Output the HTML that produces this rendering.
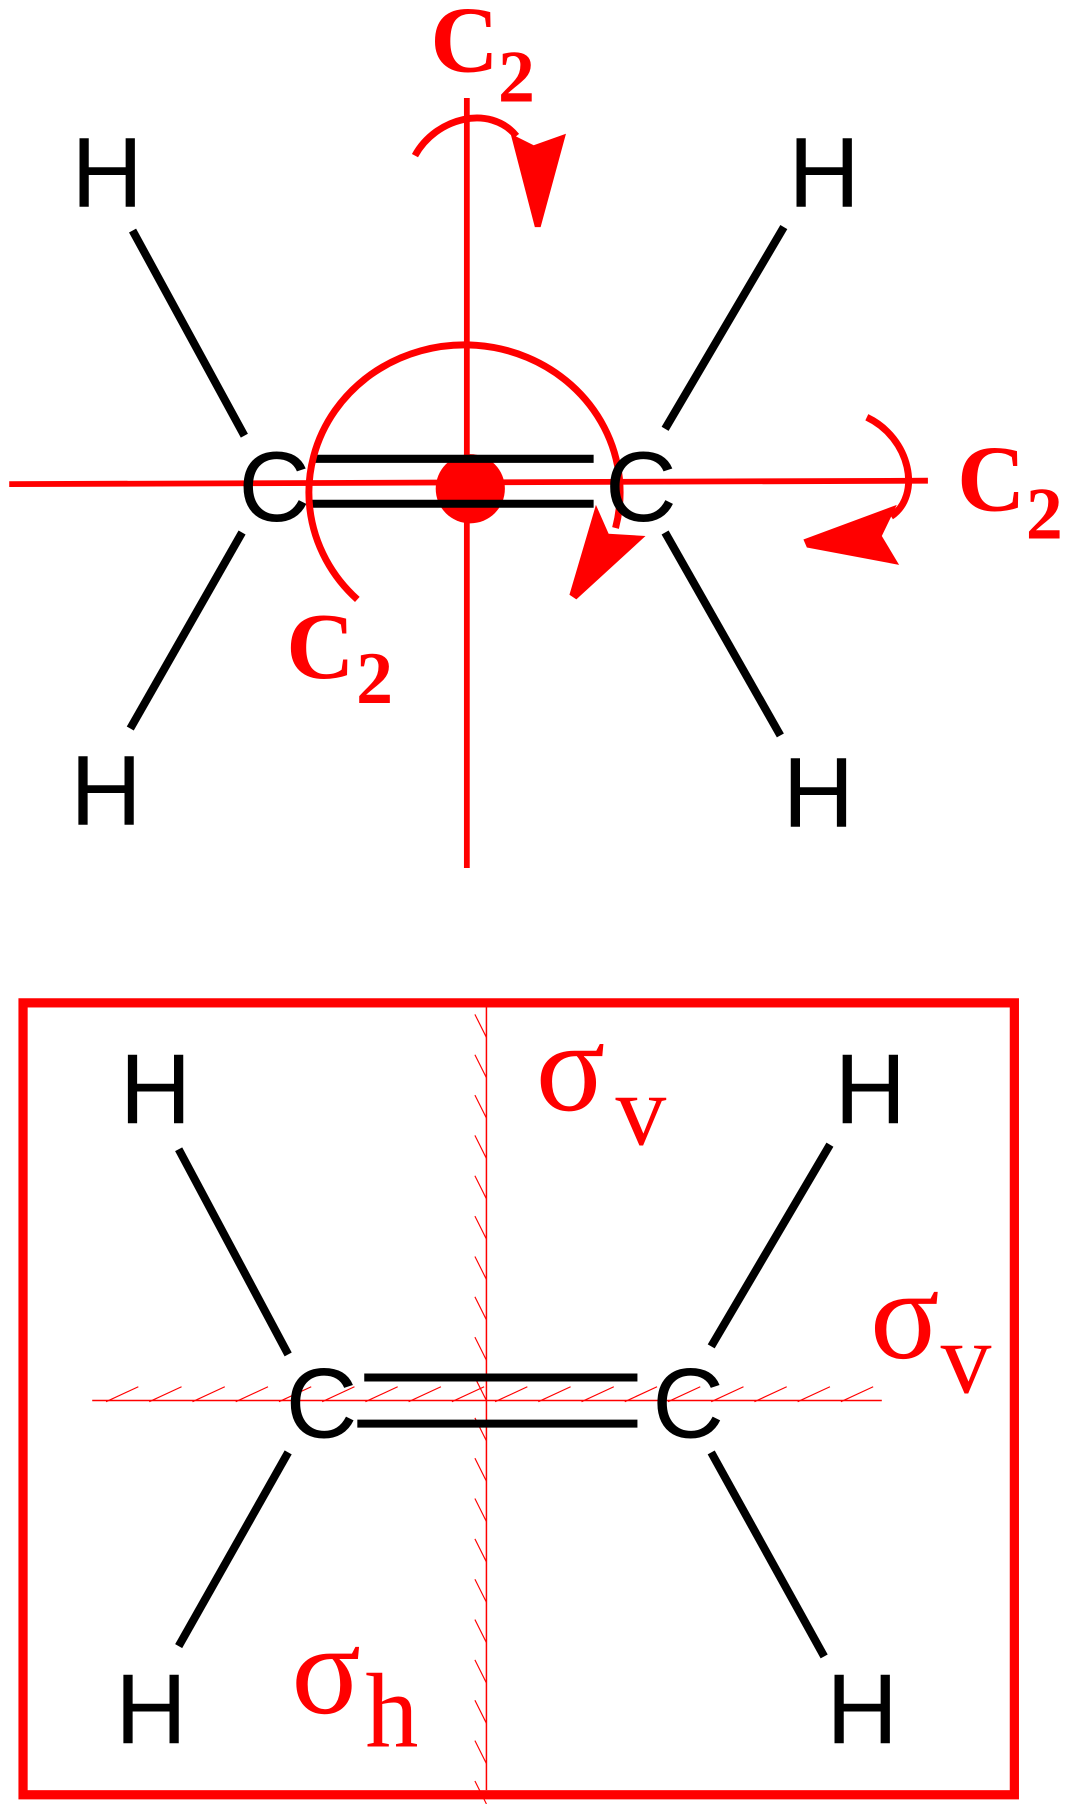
<!DOCTYPE html>
<html><head><meta charset="utf-8"><style>
html,body{margin:0;padding:0;background:#fff;}
svg{display:block;}
.at{font-family:"Liberation Sans",sans-serif;font-size:86px;fill:#000;text-anchor:middle;dominant-baseline:central;}
.lb{font-family:"Liberation Serif",serif;fill:#f00;font-weight:bold;text-anchor:middle;}
.lt{font-family:"Liberation Serif",serif;fill:#f00;text-anchor:middle;}
</style></head><body>
<svg width="1072" height="1804" viewBox="0 0 930 1565" preserveAspectRatio="none">
<g>
  <line x1="405" y1="85" x2="405" y2="753" stroke="#f00" stroke-width="5"/>
  <line x1="8" y1="420" x2="805" y2="417" stroke="#f00" stroke-width="5"/>
  <ellipse cx="408" cy="424" rx="30" ry="30" fill="#f00"/>
  <g stroke="#000" stroke-width="7">
    <line x1="270" y1="398" x2="515" y2="398"/>
    <line x1="270" y1="437" x2="515" y2="437"/>
  </g>
  <path d="M310,520 A135,128 0 1 1 534,458" fill="none" stroke="#f00" stroke-width="6"/>
  <polygon points="517,438 528,463 560,465 500,520 494,516" fill="#f00"/>
  <path d="M360,135 C378,102 425,90 448,118" fill="none" stroke="#f00" stroke-width="6"/>
  <polygon points="443,116 463,126 491,116 469,197 464,197" fill="#f00"/>
  <path d="M752,362 C790,380 800,430 773,448" fill="none" stroke="#f00" stroke-width="6"/>
  <polygon points="778,438 765,465 780,490 700,475 697,468" fill="#f00"/>
  <g stroke="#000" stroke-width="7">
    <line x1="115" y1="200" x2="212" y2="378"/>
    <line x1="680" y1="197" x2="577" y2="372"/>
    <line x1="210" y1="462" x2="113" y2="632"/>
    <line x1="577" y1="462" x2="677" y2="638"/>
  </g>
  <text class="at" x="238" y="423">C</text>
  <text class="at" x="556" y="423">C</text>
  <text class="at" x="93" y="150">H</text>
  <text class="at" x="715" y="150">H</text>
  <text class="at" x="92" y="686">H</text>
  <text class="at" x="710" y="688">H</text>
  <g><text class="lb" x="403" y="62" font-size="82">C</text><text class="lb" x="448" y="88" font-size="64">2</text></g>
  <g><text class="lb" x="860" y="443" font-size="82">C</text><text class="lb" x="906" y="467" font-size="64">2</text></g>
  <g><text class="lb" x="278" y="588" font-size="82">C</text><text class="lb" x="325" y="610" font-size="64">2</text></g>
</g>
<g>
  <rect x="20" y="870" width="860" height="687" fill="none" stroke="#f00" stroke-width="8"/>
  <line x1="422" y1="870" x2="422" y2="1553" stroke="#f00" stroke-width="1.3"/>
  <line x1="80" y1="1215" x2="765" y2="1215" stroke="#f00" stroke-width="1.3"/>
  <g id="hatch" stroke="#f00" stroke-width="1"></g>
  <g stroke="#000" stroke-width="7">
    <line x1="316" y1="1195" x2="553" y2="1195"/>
    <line x1="310" y1="1235" x2="553" y2="1235"/>
  </g>
  <g stroke="#000" stroke-width="7">
    <line x1="155" y1="997" x2="250" y2="1175"/>
    <line x1="720" y1="993" x2="617" y2="1168"/>
    <line x1="250" y1="1260" x2="155" y2="1428"/>
    <line x1="617" y1="1260" x2="715" y2="1437"/>
  </g>
  <text class="at" x="279" y="1218">C</text>
  <text class="at" x="597" y="1218">C</text>
  <text class="at" x="135" y="945">H</text>
  <text class="at" x="755" y="945">H</text>
  <text class="at" x="131" y="1483">H</text>
  <text class="at" x="748" y="1483">H</text>
  <g><text class="lt" x="495" y="963" font-size="112">σ</text><text class="lt" x="556" y="993" font-size="88">v</text></g>
  <g><text class="lt" x="785" y="1178" font-size="112">σ</text><text class="lt" x="838" y="1208" font-size="88">v</text></g>
  <g><text class="lt" x="283" y="1486" font-size="112">σ</text><text class="lt" x="340" y="1515" font-size="92">h</text></g>
</g>
</svg>
<script>
var h=document.getElementById('hatch');var ns='http://www.w3.org/2000/svg';
for(var y=880;y<1550;y+=35){var l=document.createElementNS(ns,'line');


l.setAttribute('x1',412);l.setAttribute('y1',y);l.setAttribute('x2',422);l.setAttribute('y2',y+20);h.appendChild(l);}
for(var x=92;x<765;x+=37.5){var m=document.createElementNS(ns,'line');


m.setAttribute('x1',x);m.setAttribute('y1',1216);m.setAttribute('x2',x+28);m.setAttribute('y2',1203);h.appendChild(m);}
</script>
</body></html>
